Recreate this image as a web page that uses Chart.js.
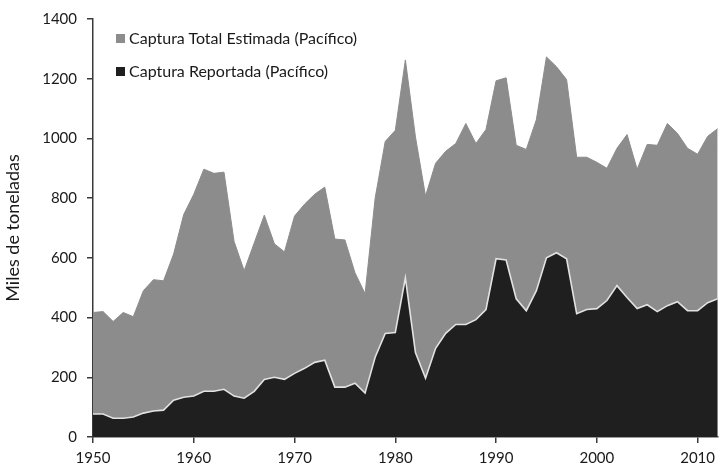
<!DOCTYPE html>
<html>
<head>
<meta charset="utf-8">
<script src="https://cdn.jsdelivr.net/npm/chart.js@4.4.1/dist/chart.umd.min.js"></script>
<style>
  body { margin:0; background:#fff; }
  #wrap { position:relative; width:721px; height:471px; }
  #leyenda { position:absolute; left:116px; top:27px; font-family:Lato, sans-serif; font-size:16px; color:#1a1a1a; }
  #leyenda div { height:33px; line-height:22px; white-space:nowrap; }
  #leyenda span { display:inline-block; width:9px; height:9px; margin-right:4px; vertical-align:1px; }
</style>
</head>
<body>
<div id="wrap">
  <canvas id="c" width="721" height="471"></canvas>
  <div id="leyenda"></div>
</div>
<script>
const anios = []
for (let a = 1950; a <= 2012; a++) anios.push(a)

const decadas = [1950, 1960, 1970, 1980, 1990, 2000, 2010]

const totalEstimada = [
  417, 420, 387, 417, 403, 490, 527, 523, 613, 745, 813, 897, 883, 887, 655, 557, 650, 743, 647, 620,
  740, 780, 813, 837, 663, 660, 550, 480, 800, 990, 1027, 1263, 1005, 807, 917, 957, 983, 1050, 983, 1030,
  1193, 1203, 977, 963, 1063, 1273, 1240, 1197, 937, 937, 920, 900, 967, 1013, 897, 980, 977, 1050, 1017, 967,
  947, 1007, 1033
]

const reportada = [
  77, 77, 63, 63, 67, 80, 87, 90, 123, 133, 137, 153, 153, 160, 137, 130, 153, 193, 200, 193,
  213, 230, 250, 257, 167, 167, 180, 147, 267, 347, 350, 533, 283, 197, 297, 347, 377, 377, 393, 427,
  597, 593, 463, 423, 490, 600, 617, 597, 413, 427, 430, 457, 507, 467, 430, 443, 420, 440, 453, 423,
  423, 450, 463
]

const etiquetas = ['Captura Total Estimada (Pacífico)', 'Captura Reportada (Pacífico)']
const colores = ['#8c8c8c', '#1f1f1f']

const fuente = { family: 'Lato, sans-serif', size: 15 }
const ejeColor = '#3a3a3a'

const puntos = v => anios.map((a, i) => ({ x: a, y: v[i] }))

const grafico = new Chart(document.getElementById('c'), {
  type: 'line',
  data: {
    datasets: [
      {
        label: etiquetas[1],
        data: puntos(reportada),
        fill: 'origin',
        backgroundColor: colores[1],
        borderColor: '#e2e2e2',
        borderWidth: 1.6,
        pointRadius: 0,
        tension: 0,
      },
      {
        label: etiquetas[0],
        data: puntos(totalEstimada),
        fill: 'origin',
        backgroundColor: colores[0],
        borderColor: colores[0],
        borderWidth: 1,
        pointRadius: 0,
        tension: 0,
      },
    ]
  },
  options: {
    responsive: false,
    animation: false,
    layout: { padding: { top: 17, right: 0, left: 0, bottom: 0 } },
    plugins: {
      legend: { display: false },
      tooltip: { enabled: false },
    },
    scales: {
      x: {
        type: 'linear',
        min: 1950,
        max: 2012,
        afterFit: s => { s.height = 34 },
        afterBuildTicks: s => { s.ticks = decadas.map(v => ({ value: v })) },
        ticks: { autoSkip: false, color: '#1a1a1a', font: fuente, padding: 6, maxRotation: 0, callback: v => String(v) },
        grid: { drawOnChartArea: false, drawTicks: true, tickLength: 6, color: ejeColor, lineWidth: 1.5 },
        border: { display: true, color: ejeColor, width: 1.5 },
      },
      y: {
        min: 0,
        max: 1400,
        afterFit: s => { s.width = 93 },
        ticks: { stepSize: 200, color: '#1a1a1a', font: fuente, padding: 10, callback: v => String(v) },
        grid: { drawOnChartArea: false, drawTicks: true, tickLength: 6, color: ejeColor, lineWidth: 1.5 },
        border: { display: true, color: ejeColor, width: 1.5 },
        title: { display: true, text: 'Miles de toneladas', color: '#1a1a1a', font: { family: 'Lato, sans-serif', size: 18 }, padding: { top: 2, bottom: 0 } },
      },
    },
  }
})

// leyenda en HTML, en el orden del original
const ley = document.getElementById('leyenda')
etiquetas.forEach((t, i) => {
  const d = document.createElement('div')
  const s = document.createElement('span')
  s.style.background = colores[i]
  d.appendChild(s)
  d.appendChild(document.createTextNode(t))
  ley.appendChild(d)
})
</script>
</body>
</html>
